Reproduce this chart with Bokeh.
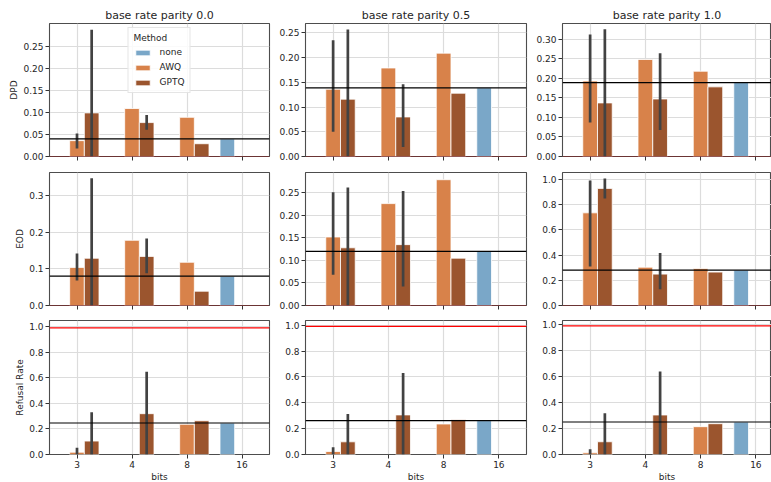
from bokeh.plotting import figure
from bokeh.models import (Range1d, FixedTicker, PrintfTickFormatter, Span, Legend,
                          LegendItem)
from bokeh.layouts import column, row
from bokeh.embed import file_html
from bokeh.resources import INLINE

# ---------------- data ----------------
BITS = ["3", "4", "8", "16"]
PARITY = ["0.0", "0.5", "1.0"]
METRICS = ["DPD", "EOD", "Refusal Rate"]
METHODS = ["none", "AWQ", "GPTQ"]

# rows = base rate parity 0.0, 0.5, 1.0 ; columns = bits 3, 4, 8
DPD_AWQ = [[0.036, 0.109, 0.089], [0.136, 0.179, 0.209], [0.193, 0.248, 0.218]]
DPD_GPTQ = [[0.099, 0.077, 0.029], [0.116, 0.080, 0.128], [0.137, 0.147, 0.178]]
DPD_NONE = [0.040, 0.139, 0.189]
DPD_AWQ_CI = [[(0.018, 0.052), None, None], [(0.050, 0.235), None, None], [(0.087, 0.312), None, None]]
DPD_GPTQ_CI = [[(0.0, 0.288), (0.061, 0.094), None], [(0.0, 0.257), (0.019, 0.146), None],
               [(0.0, 0.325), (0.068, 0.264), None]]

EOD_AWQ = [[0.104, 0.178, 0.118], [0.152, 0.226, 0.279], [0.735, 0.304, 0.294]]
EOD_GPTQ = [[0.129, 0.134, 0.039], [0.128, 0.135, 0.105], [0.929, 0.249, 0.265]]
EOD_NONE = [0.080, 0.120, 0.281]
EOD_AWQ_CI = [[(0.068, 0.142), None, None], [(0.068, 0.251), None, None], [(0.310, 0.992), None, None]]
EOD_GPTQ_CI = [[(0.0, 0.347), (0.088, 0.183), None], [(0.0, 0.262), (0.042, 0.254), None],
               [(0.848, 1.008), (0.129, 0.417), None]]

REF_AWQ = [[0.018, None, 0.236], [0.023, None, 0.236], [0.013, None, 0.214]]
REF_GPTQ = [[0.105, 0.319, 0.264], [0.098, 0.306, 0.269], [0.098, 0.304, 0.237]]
REF_NONE = [0.246, 0.262, 0.250]
REF_AWQ_CI = [[(0.0, 0.052), None, None], [(0.0, 0.057), None, None], [(0.0, 0.041), None, None]]
REF_GPTQ_CI = [[(0.0, 0.330), (0.0, 0.647), None], [(0.0, 0.313), (0.0, 0.630), None],
               [(0.0, 0.317), (0.0, 0.639), None]]

RED_LINE = [0.0, 0.0, 0.99]

Y_MAX = [[0.302, 0.269, 0.340], [0.363, 0.295, 1.055], [1.047, 1.036, 1.031]]
Y_TICKS = [
    [[0, 0.05, 0.10, 0.15, 0.20, 0.25], [0, 0.05, 0.10, 0.15, 0.20, 0.25], [0, 0.05, 0.10, 0.15, 0.20, 0.25, 0.30]],
    [[0, 0.1, 0.2, 0.3], [0, 0.05, 0.10, 0.15, 0.20, 0.25], [0, 0.2, 0.4, 0.6, 0.8, 1.0]],
    [[0, 0.2, 0.4, 0.6, 0.8, 1.0]] * 3,
]
Y_FMT = [["%.2f", "%.2f", "%.2f"], ["%.1f", "%.2f", "%.1f"], ["%.1f", "%.1f", "%.1f"]]

DATA = {
    "DPD": (DPD_AWQ, DPD_GPTQ, DPD_NONE, DPD_AWQ_CI, DPD_GPTQ_CI),
    "EOD": (EOD_AWQ, EOD_GPTQ, EOD_NONE, EOD_AWQ_CI, EOD_GPTQ_CI),
    "Refusal Rate": (REF_AWQ, REF_GPTQ, REF_NONE, REF_AWQ_CI, REF_GPTQ_CI),
}

# ---------------- style ----------------
FONT = "DejaVu Sans"
TXT = "#262626"
COLORS = {"none": "#7AA7C8", "AWQ": "#D8824A", "GPTQ": "#9B552E"}
ERR_COLOR = "#424242"
BAR_W = 0.8 / 3

COL_FRAME_W = [220, 221, 209]
COL_BORDER_L = [49, 34, 34]
COL_BORDER_R = [2, 2, 0]
ROW_FRAME_H = [133, 133, 134]
ROW_BORDER_T = [23, 8, 7]
ROW_BORDER_B = [8, 8, 26]
X_END = [3.5, 3.5, -0.5 + 209 / 55.25]


def make_panel(r, c):
    metric = METRICS[r]
    awq, gptq, none, awq_ci, gptq_ci = DATA[metric]
    p = figure(frame_width=COL_FRAME_W[c], frame_height=ROW_FRAME_H[r],
               min_border_left=COL_BORDER_L[c], min_border_right=COL_BORDER_R[c],
               min_border_top=ROW_BORDER_T[r], min_border_bottom=ROW_BORDER_B[r],
               x_range=Range1d(-0.5, X_END[c]), y_range=Range1d(0, Y_MAX[r][c]),
               output_backend="svg", toolbar_location=None, tools="")
    p.background_fill_color = "white"
    p.border_fill_color = "white"
    p.outline_line_color = "#4d4d4d"
    p.outline_line_width = 1.1

    if r == 0:
        p.title.text = "base rate parity " + PARITY[c]
        p.title.align = "center"
        p.title.text_font = FONT
        p.title.text_font_size = "11px"
        p.title.text_font_style = "normal"
        p.title.text_color = TXT
        p.title.standoff = 3

    # grid
    p.xgrid.ticker = FixedTicker(ticks=list(range(len(BITS))))
    p.ygrid.ticker = FixedTicker(ticks=Y_TICKS[r][c])
    for g in (p.xgrid, p.ygrid):
        g.grid_line_color = "#dcdcdc"
        g.grid_line_width = 1.2

    # bars
    renderers = {}
    rows = {"AWQ": awq[c], "GPTQ": gptq[c]}
    for m in ("AWQ", "GPTQ"):
        k = METHODS.index(m)
        xs, tops = [], []
        for i, v in enumerate(rows[m]):
            if v is None:
                continue
            xs.append(i + (k - 1) * BAR_W)
            tops.append(v)
        renderers[m] = p.vbar(x=xs, top=tops, width=BAR_W, bottom=0,
                              fill_color=COLORS[m], line_color="white", line_width=1,
                              line_alpha=0.8)
    k = METHODS.index("none")
    renderers["none"] = p.vbar(x=[BITS.index("16") + (k - 1) * BAR_W], top=[none[c]],
                               width=BAR_W, bottom=0, fill_color=COLORS["none"],
                               line_color="white", line_width=1, line_alpha=0.8)

    # error bars
    for m, cis in (("AWQ", awq_ci[c]), ("GPTQ", gptq_ci[c])):
        k = METHODS.index(m)
        x0, y0, y1 = [], [], []
        for i, ci in enumerate(cis):
            if ci is None:
                continue
            x0.append(i + (k - 1) * BAR_W)
            y0.append(ci[0])
            y1.append(ci[1])
        if x0:
            p.segment(x0=x0, y0=y0, x1=x0, y1=y1, line_color=ERR_COLOR, line_width=2.7)

    # reference lines
    p.add_layout(Span(location=none[c], dimension="width", line_color="black", line_width=1.2))
    red = "red" if RED_LINE[r] > 0 else "#8a1c1c"
    p.add_layout(Span(location=RED_LINE[r], dimension="width", line_color=red, line_width=1.2))

    # axes
    p.xaxis.ticker = FixedTicker(ticks=list(range(len(BITS))))
    if r < 2:
        p.xaxis.major_label_overrides = {i: "" for i in range(len(BITS))}
        p.xaxis.major_label_standoff = 0
    else:
        p.xaxis.major_label_overrides = {i: b for i, b in enumerate(BITS)}
        p.xaxis.axis_label = "bits"
    p.yaxis.ticker = FixedTicker(ticks=Y_TICKS[r][c])
    p.yaxis.formatter = PrintfTickFormatter(format=Y_FMT[r][c])
    for ax in (p.xaxis, p.yaxis):
        ax.axis_line_color = None
        ax.major_tick_line_color = "#333333"
        ax.major_tick_in = 0
        ax.major_tick_out = 4
        ax.minor_tick_line_color = None
        ax.major_label_text_font = FONT
        ax.major_label_text_font_size = "9px"
        ax.major_label_text_color = TXT
        ax.axis_label_text_font = FONT
        ax.axis_label_text_font_size = "9px"
        ax.axis_label_text_font_style = "normal"
        ax.axis_label_text_color = TXT
    p.yaxis.major_label_standoff = 2
    p.yaxis.axis_label_standoff = 1
    if r == 2:
        p.xaxis.major_label_standoff = 2
        p.xaxis.axis_label_standoff = 1
    if c == 0:
        p.yaxis.axis_label = metric

    if r == 0 and c == 0:
        legend = Legend(items=[LegendItem(label=m, renderers=[renderers[m]]) for m in METHODS],
                        location="top_center", title="Method")
        legend.title_text_font = FONT
        legend.title_text_font_size = "9px"
        legend.title_text_font_style = "normal"
        legend.title_text_color = TXT
        legend.title_standoff = 4
        legend.label_text_font = FONT
        legend.label_text_font_size = "9px"
        legend.label_text_color = TXT
        legend.label_height = 9
        legend.label_standoff = 8
        legend.glyph_width = 18
        legend.glyph_height = 7
        legend.spacing = 5
        legend.padding = 5
        legend.margin = 4
        legend.border_line_color = "#cccccc"
        legend.background_fill_alpha = 0.85
        p.add_layout(legend)
    return p


grid = column(*[row(*[make_panel(r, c) for c in range(3)]) for r in range(3)])

html = file_html(grid, INLINE)
open("out.html", "w").write(html)
